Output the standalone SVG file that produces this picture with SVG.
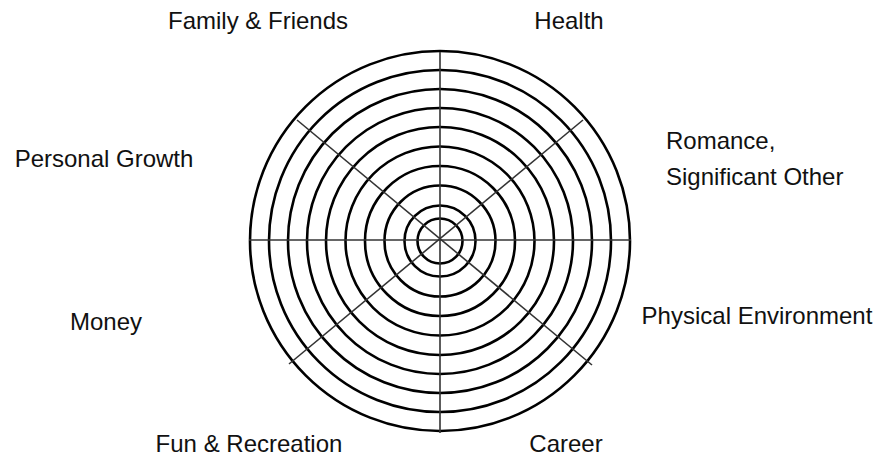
<svg xmlns="http://www.w3.org/2000/svg" width="890" height="458" viewBox="0 0 890 458">
<style>
.ring{fill:none;stroke:#000;stroke-width:2.6}
.spoke{stroke:#333;stroke-width:1.6;fill:none}
.lbl{font-family:"Liberation Sans",Arial,sans-serif;font-size:24px;fill:#111}
</style>
<rect width="890" height="458" fill="#fff"/>
<g id="wheel">
<circle class="ring" cx="440" cy="241" r="190"/>
<circle class="ring" cx="440" cy="241" r="171"/>
<circle class="ring" cx="440" cy="241" r="152"/>
<circle class="ring" cx="440" cy="241" r="133"/>
<circle class="ring" cx="440" cy="241" r="114"/>
<circle class="ring" cx="440" cy="241" r="94.5"/>
<circle class="ring" cx="440" cy="241" r="75"/>
<circle class="ring" cx="440" cy="241" r="55.5"/>
<circle class="ring" cx="440" cy="241" r="35.5"/>
<circle class="ring" cx="440" cy="241" r="22.5"/>
</g>
<g id="connectors">
<line class="spoke" x1="440" y1="52" x2="440" y2="433"/>
<line class="spoke" x1="249" y1="240" x2="631" y2="240"/>
<line class="spoke" x1="297" y1="120" x2="592" y2="365"/>
<line class="spoke" x1="583" y1="120" x2="289" y2="364"/>
</g>
<g id="family"><text class="lbl" x="258" y="29" text-anchor="middle">Family &amp; Friends</text></g>
<g id="health"><text class="lbl" x="569" y="29" text-anchor="middle">Health</text></g>
<g id="romance"><text class="lbl" x="666" y="149">Romance,</text><text class="lbl" x="666" y="185">Significant Other</text></g>
<g id="personal"><text class="lbl" x="104" y="167" text-anchor="middle">Personal Growth</text></g>
<g id="physical"><text class="lbl" x="757" y="324" text-anchor="middle">Physical Environment</text></g>
<g id="money"><text class="lbl" x="106" y="330" text-anchor="middle">Money</text></g>
<g id="fun"><text class="lbl" x="249" y="452" text-anchor="middle">Fun &amp; Recreation</text></g>
<g id="career"><text class="lbl" x="566" y="452" text-anchor="middle">Career</text></g>
</svg>
